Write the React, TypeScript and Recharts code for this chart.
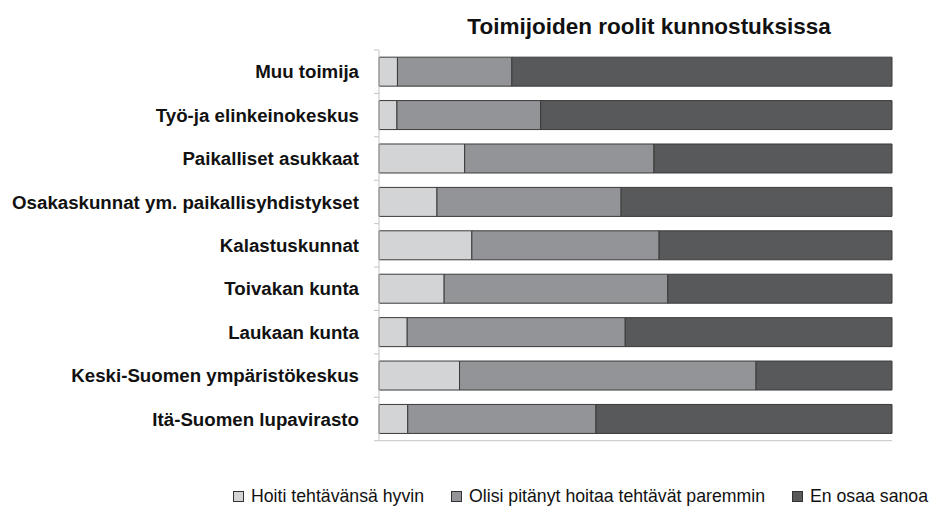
import { BarChart, Bar, XAxis, YAxis, Legend } from 'recharts'

const toimijat = [
    'Muu toimija',
    'Työ-ja elinkeinokeskus',
    'Paikalliset asukkaat',
    'Osakaskunnat ym. paikallisyhdistykset',
    'Kalastuskunnat',
    'Toivakan kunta',
    'Laukaan kunta',
    'Keski-Suomen ympäristökeskus',
    'Itä-Suomen lupavirasto'
]

const hoitiHyvin = [3.6, 3.5, 16.7, 11.3, 18.1, 12.7, 5.5, 15.7, 5.6]
const olisiParemmin = [22.3, 28.0, 36.9, 35.9, 36.5, 43.6, 42.5, 57.8, 36.7]
const enOsaaSanoa = [74.1, 68.5, 46.4, 52.8, 45.4, 43.7, 52.0, 26.5, 57.7]

const xTicks = [0, 10, 20, 30, 40, 50, 60, 70, 80, 90, 100]

const sarjat = [
    { key: 'hyvin', nimi: 'Hoiti tehtävänsä hyvin', vari: '#d3d4d6' },
    { key: 'paremmin', nimi: 'Olisi pitänyt hoitaa tehtävät paremmin', vari: '#939497' },
    { key: 'enosaa', nimi: 'En osaa sanoa', vari: '#58595b' }
]

const data = toimijat.map((nimi, i) => ({
    nimi,
    hyvin: hoitiHyvin[i],
    paremmin: olisiParemmin[i],
    enosaa: enOsaaSanoa[i]
}))

const FONT = '"Liberation Sans", Arial, sans-serif'
const AXIS = '#c4c4c4'

function ToimijaTick(props: any) {
    const { x, y, payload, index, visibleTicksCount } = props
    const half = payload?.offset ?? 21.7
    return (
        <g>
            <text x={x - 20} y={y} dy="0.355em" textAnchor="end"
                fontFamily={FONT} fontWeight="bold" fontSize={18.7} fill="#111">
                {payload.value}
            </text>
            <line x1={x - 5} x2={x} y1={y - half} y2={y - half} stroke={AXIS} />
            {index === visibleTicksCount - 1 &&
                <line x1={x - 5} x2={x} y1={y + half} y2={y + half} stroke={AXIS} />}
        </g>
    )
}

function Selite() {
    return (
        <div style={{ display: 'flex', alignItems: 'center', height: 22, paddingLeft: 233,
            position: 'relative', top: 1, fontFamily: FONT, fontSize: 17.7, color: '#111' }}>
            {sarjat.map((s) => (
                <div key={s.key} style={{ display: 'flex', alignItems: 'center', marginRight: 27 }}>
                    <svg width={11} height={11} style={{ marginRight: 7 }}>
                        <rect x={0.5} y={0.5} width={10} height={10} fill={s.vari} stroke="#333" />
                    </svg>
                    <span style={{ whiteSpace: 'nowrap' }}>{s.nimi}</span>
                </div>
            ))}
        </div>
    )
}

export default function App() {
    return (
        <div style={{ position: 'absolute', left: 0, top: 0, width: 929, height: 506 }}>
            <svg width={929} height={50} style={{ position: 'absolute', left: 0, top: 0 }}>
                <text x={649} y={34} textAnchor="middle" fontFamily={FONT}
                    fontWeight="bold" fontSize={22.5} fill="#111">
                    Toimijoiden roolit kunnostuksissa
                </text>
            </svg>
            <BarChart width={929} height={506} data={data} layout="vertical"
                margin={{ top: 50, right: 37, left: 0, bottom: 0 }} barCategoryGap="16.5%">
                <XAxis type="number" domain={[0, 100]} ticks={xTicks} tick={false}
                    tickSize={4} stroke={AXIS} height={43.3} />
                <YAxis type="category" dataKey="nimi" width={379} tickLine={false}
                    tickSize={0} tickMargin={0} stroke={AXIS} tick={<ToimijaTick />} interval={0} />
                <Legend verticalAlign="bottom" content={<Selite />} />
                {sarjat.map((s) => (
                    <Bar key={s.key} dataKey={s.key} name={s.nimi} stackId="a" fill={s.vari}
                        stroke="#3a3a3a" strokeWidth={1} isAnimationActive={false} />
                ))}
            </BarChart>
        </div>
    )
}
